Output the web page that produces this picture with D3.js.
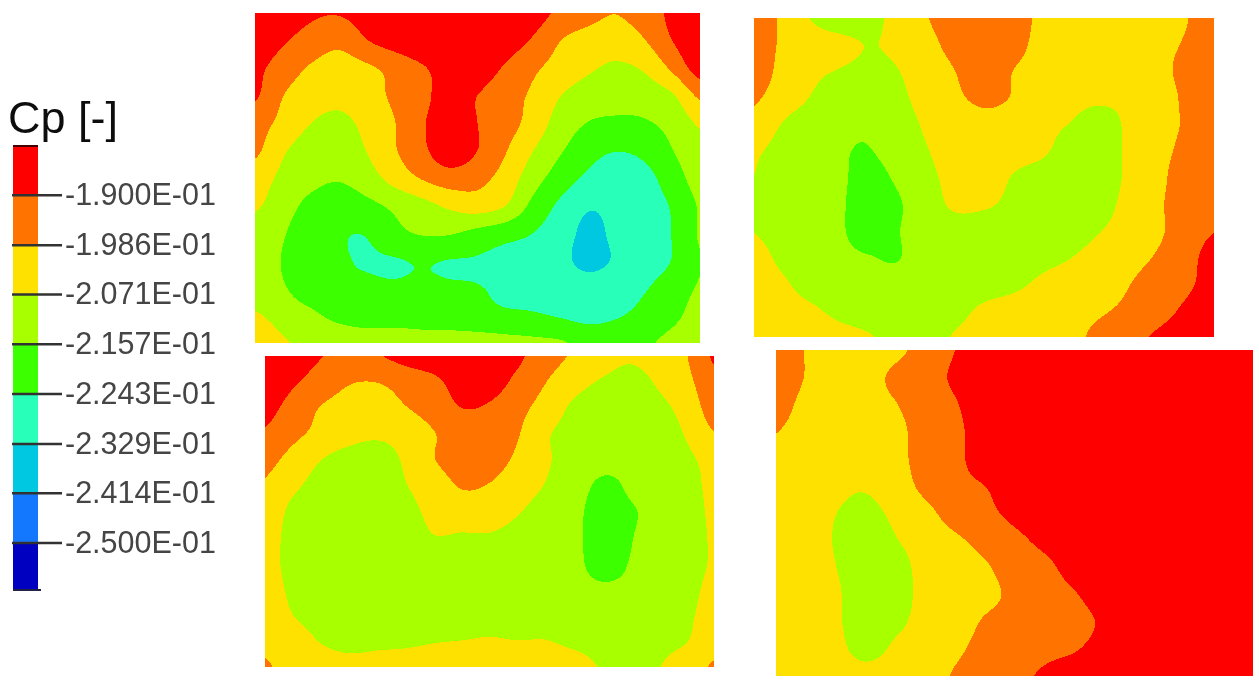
<!DOCTYPE html>
<html>
<head>
<meta charset="utf-8">
<script src="https://cdn.jsdelivr.net/npm/d3@7"></script>
<style>
  html, body { margin: 0; background: #fff; }
  svg { display: block; }
  text { font-family: "Liberation Sans", Arial, sans-serif; }
</style>
</head>
<body>
<svg id="chart" width="1259" height="684">
  <defs><filter id="soft"><feGaussianBlur stdDeviation="0.5"></feGaussianBlur></filter></defs>
</svg>
<script>
// Cp levels (in 1e-3) and the colours of the bands, top of the legend first
var levels = [-190, -198.6, -207.1, -215.7, -224.3, -232.9, -241.4, -250];
var levelLabels = ["-1.900E-01", "-1.986E-01", "-2.071E-01", "-2.157E-01", "-2.243E-01", "-2.329E-01", "-2.414E-01", "-2.500E-01"];
var bandColors = ["#ff0000", "#ff7300", "#ffe100", "#a8ff00", "#3cff00", "#28ffb8", "#00c8e0", "#1478ff", "#0000c0"];
var legendRange = [-181.4, -258.2];

// Cp on a 17 x 13 grid, top row first
var cpTopLeft = [
  [-181,-186,-189,-189.6,-187,-183,-180,-177,-177,-180,-186,-192,-196,-198.4,-194,-188,-181],
  [-184,-189,-193,-196,-190.4,-186,-182,-180,-180,-185,-191,-198.6,-202,-204,-199,-190,-183],
  [-188,-194,-199.5,-203,-200,-196,-191,-186,-185,-191,-197,-202,-206,-208.2,-206,-197,-186],
  [-189,-198.4,-203,-205,-202.5,-197,-192,-187,-190,-195,-200,-207,-211,-213,-212,-208,-197],
  [-195,-201,-207,-209,-205,-199,-191,-186,-190,-195,-202,-211,-216,-217,-216.5,-213,-206],
  [-197,-206,-211,-212.5,-207,-199.5,-192,-185,-190,-198,-207,-215,-221,-224,-222,-216,-209],
  [-203,-209,-213,-215,-211,-204,-198,-194,-196,-202,-212,-220,-226,-230,-227,-220,-212],
  [-206,-212,-218,-221,-218,-214,-210,-205.5,-203,-207,-218,-226,-232,-230.5,-228,-223.5,-215],
  [-211,-215,-221,-223.5,-223.8,-218,-215,-215,-218,-221,-224.3,-229,-235,-231,-229,-224,-215],
  [-213,-216,-221,-223.5,-224.8,-224.8,-223.6,-224.5,-225,-227,-228,-231,-235,-232,-229,-224,-216],
  [-212,-215,-220,-223,-223,-223.5,-223,-223.5,-224,-225.5,-226.5,-228,-229.5,-228,-225,-220,-215],
  [-206,-211,-214,-218,-220,-221,-221,-221,-222,-223,-223.5,-225,-227,-225,-222,-218,-212],
  [-199,-206,-209,-210,-211,-209,-211,-211.5,-212,-213,-214,-215,-218,-218.5,-217,-213,-207]
];

var cpTopRight = [
  [-194,-200,-207.5,-211,-210,-204,-199,-195,-193,-195,-200,-201,-202,-201,-200,-199,-194],
  [-195.5,-199.5,-203,-205,-207.3,-205.5,-201,-196,-192,-195.5,-201,-202,-202.5,-202,-201,-198,-195],
  [-194,-201,-205.5,-207.5,-209,-207.3,-203,-198.6,-194,-198.6,-202,-204,-204,-203,-202,-196,-194],
  [-197.5,-203,-207.5,-211,-212,-209,-204,-200,-197,-199,-203,-205,-206,-205.5,-204,-197,-193.5],
  [-201,-207.5,-211,-214,-214.5,-211,-206,-203,-201,-202,-205,-207.3,-210,-206,-201,-198,-194],
  [-206,-210,-213,-215,-216,-212,-207.5,-204,-203,-204,-206,-210,-211.5,-206,-201,-197,-193.5],
  [-207.2,-211,-214,-214.8,-218,-214.5,-209,-205,-203,-207.5,-210,-211.5,-211,-206,-201,-195,-193.5],
  [-208.5,-212,-214,-215,-219,-216.5,-210.5,-206,-206,-209,-211,-212,-210,-205,-200,-195,-193],
  [-207.3,-211,-214,-215,-219,-216,-212,-210,-211,-211.5,-212,-211,-207.5,-204,-200,-195,-190.3],
  [-204,-209,-212,-214,-215.4,-216,-212,-211.5,-211,-210.5,-209,-207.3,-204,-201.5,-198,-193.5,-186.5],
  [-202,-206,-210,-212,-213.5,-213.5,-213,-212,-210,-208.5,-206,-204,-202,-199,-195,-192,-186],
  [-201,-204,-206,-209,-210.5,-211.5,-211,-209,-206,-204.5,-203,-201,-199.5,-197,-193.5,-188.5,-183],
  [-201,-202,-203,-205,-206.7,-209,-209,-206.7,-205,-203,-201,-200,-197,-192.5,-189,-185,-180.5]
];

var cpBottomLeft = [
  [-182.5,-186,-189.8,-192,-190.5,-187.5,-185,-183,-185,-188.5,-195,-199.5,-202,-205.5,-202,-199,-189],
  [-185,-189,-193.5,-198,-198.4,-195,-192,-186.5,-186.5,-192,-198.4,-204,-208,-211.5,-206,-201,-192.5],
  [-187.5,-193,-199,-202,-203,-199,-195,-190,-191,-196,-202,-208.5,-211.5,-213,-209.5,-204,-195],
  [-191,-196.5,-201,-204.5,-206,-204,-199,-195,-194,-198,-206,-210,-213.5,-214.5,-212,-206.5,-199],
  [-196,-201.5,-207,-210,-210.5,-206,-199,-195,-195.5,-200,-206,-210.5,-213.5,-214.5,-214,-209,-204.5],
  [-199.5,-205.5,-210,-212,-212.5,-207.5,-203,-198,-199,-203,-207.5,-212,-217,-215,-214,-210.5,-205],
  [-202,-209,-212,-214,-214,-210,-205,-203,-203,-206.5,-210.5,-213.5,-219,-216.2,-214.5,-211.5,-205.5],
  [-203.5,-210,-213,-215,-215,-212,-207.5,-208,-208,-210,-212,-213.5,-220,-216,-214.5,-212,-206],
  [-204,-210,-213.5,-215,-215.4,-214,-212,-212,-212,-212.5,-213,-213.5,-219,-215.5,-214.5,-212,-206],
  [-202.5,-209,-212,-214,-214.5,-214,-212.5,-212,-211.5,-212,-212.5,-213,-214.5,-214.5,-214,-210.5,-204.5],
  [-201,-207.1,-210,-212,-212.5,-211.5,-210.5,-210,-209.5,-210,-210.5,-211.5,-213,-213,-212,-209,-203],
  [-200,-203.5,-207.5,-210,-209,-208.5,-207.5,-207,-206.5,-207,-206.9,-208.5,-210,-210.5,-210,-207.5,-201],
  [-198,-201,-203,-204,-204,-203.5,-202.5,-202,-202,-202.5,-203.5,-204.5,-207.5,-209,-207.5,-202,-198]
];

var cpBottomRight = [
  [-193.5,-199,-206,-206,-201,-195,-190,-187.5,-185,-182.5,-180,-178,-176,-175,-175,-175,-175],
  [-192.5,-199,-204,-203,-196.5,-193,-189,-185.5,-183,-181,-179,-178,-176,-175,-175,-175,-175],
  [-195,-201,-204,-203,-199,-194,-190.5,-186.5,-184,-182,-180,-178,-176,-175,-175,-175,-175],
  [-198.4,-202,-204.5,-204,-201,-195,-191.5,-187,-184.5,-182,-180,-178,-176,-175,-175,-175,-175],
  [-200,-203,-205,-205,-201.5,-195,-192,-186,-184,-182,-180,-178,-176,-175,-175,-175,-175],
  [-201,-203,-205.5,-206.5,-203,-196.5,-192.5,-190,-186,-182.5,-180,-178,-176,-175,-175,-175,-175],
  [-201.5,-204,-207,-209,-205.5,-201,-195,-192,-188,-185,-182,-180,-177,-175,-175,-175,-175],
  [-201.5,-204.5,-207.5,-211.5,-207.5,-204,-200,-196,-192,-188,-184.5,-181,-178,-176,-175,-175,-175],
  [-201,-204,-207,-211.5,-209.5,-205,-202.5,-199.5,-195,-192,-187,-183.5,-180,-177,-175,-175,-175],
  [-201,-204,-206,-212,-209.5,-205.5,-203,-200.5,-197,-193.5,-190.5,-186.5,-183,-180,-177,-175,-175],
  [-201,-203,-206,-211,-208.5,-205,-202,-198,-196,-194,-192,-189,-185,-181.5,-178,-175,-175],
  [-200.5,-203,-205,-209.5,-206,-203.5,-200,-196.5,-194.5,-192,-190.5,-187.5,-184,-180.5,-178,-175,-175],
  [-200.5,-202,-203,-204.5,-203.5,-201.5,-198,-195,-192,-189,-186.5,-184,-181,-178,-176,-175,-175]
];

var panels = [
  {grid: cpTopLeft, x0: 255, x1: 700, y0: 13, y1: 343},
  {grid: cpTopRight, x0: 754, x1: 1214, y0: 18, y1: 337},
  {grid: cpBottomLeft, x0: 265, x1: 714, y0: 356, y1: 667},
  {grid: cpBottomRight, x0: 776, x1: 1253, y0: 350, y1: 676}
];

var svg = d3.select("#chart");
var SUB = 12;

// catmull-rom through the read values, so the contours come out round and not faceted
var cubic = function(a, b, c, d, t) {
    return 0.5 * (2 * b + (c - a) * t + (2 * a - 5 * b + 4 * c - d) * t * t + (3 * b - a - 3 * c + d) * t * t * t);
};

var resample = function(grid) {
    var rows = grid.length, cols = grid[0].length;
    var at = function(r, c) {
        return grid[Math.max(0, Math.min(rows - 1, r))][Math.max(0, Math.min(cols - 1, c))];
    };
    var w = (cols - 1) * SUB + 1, h = (rows - 1) * SUB + 1;
    var out = new Array(w * h);
    for (var j = 0; j < h; j++) {
        var r = Math.min(Math.floor(j / SUB), rows - 2), v = j / SUB - r;
        for (var i = 0; i < w; i++) {
            var c = Math.min(Math.floor(i / SUB), cols - 2), u = i / SUB - c;
            var col = [];
            for (var k = -1; k <= 2; k++) {
                col.push(cubic(at(r + k, c - 1), at(r + k, c), at(r + k, c + 1), at(r + k, c + 2), u));
            }
            out[j * w + i] = cubic(col[0], col[1], col[2], col[3], v);
        }
    }
    return {values: out, w: w, h: h};
};

var drawPanel = function(p, idx) {
    var field = resample(p.grid);
    var x = d3.scaleLinear().domain([0.5, field.w - 0.5]).range([p.x0, p.x1]);
    var y = d3.scaleLinear().domain([0.5, field.h - 0.5]).range([p.y0, p.y1]);
    var path = d3.geoPath(d3.geoTransform({
        point: function(px, py) { this.stream.point(x(px), y(py)); }
    }));

    // lowest threshold first, each band painted over the one below it
    var thresholds = levels.slice().reverse();
    var colors = bandColors.slice(0, levels.length).reverse();
    var contours = d3.contours().size([field.w, field.h]).thresholds(thresholds)(field.values);

    svg.append("clipPath").attr("id", "clip" + idx)
        .append("rect")
        .attr("x", p.x0).attr("y", p.y0)
        .attr("width", p.x1 - p.x0).attr("height", p.y1 - p.y0);

    svg.append("g")
        .attr("clip-path", "url(#clip" + idx + ")")
        .selectAll("path")
        .data(contours)
        .enter()
        .append("path")
        .attr("d", path)
        .attr("fill", function(d, i) { return colors[i]; })
        .attr("shape-rendering", "crispEdges");
};

panels.forEach(drawPanel);

// legend
var legendY = d3.scaleLinear().domain(legendRange).range([145, 590]);
var legend = svg.append("g");
var bandEdges = [legendRange[0]].concat(levels, [legendRange[1]]);

legend.selectAll("rect")
    .data(bandColors)
    .enter()
    .append("rect")
    .attr("x", 13)
    .attr("width", 25)
    .attr("y", function(d, i) { return legendY(bandEdges[i]); })
    .attr("height", function(d, i) { return legendY(bandEdges[i + 1]) - legendY(bandEdges[i]); })
    .attr("fill", function(d) { return d; });

legend.append("line").attr("x1", 13).attr("x2", 38).attr("y1", 146).attr("y2", 146).attr("stroke", "#400").attr("stroke-width", 2);
legend.append("line").attr("x1", 13).attr("x2", 41).attr("y1", 590).attr("y2", 590).attr("stroke", "#224").attr("stroke-width", 2);

var axis = d3.axisRight(legendY)
    .tickValues(levels)
    .tickSize(50)
    .tickPadding(3)
    .tickFormat(function(d, i) { return levelLabels[i]; });

// filter on the whole group, a flat line has no box of its own for it
var axisG = svg.append("g").attr("transform", "translate(12,0)").attr("filter", "url(#soft)").call(axis);
axisG.select(".domain").remove();
axisG.selectAll("line").attr("stroke", "#333").attr("stroke-width", 2.5);
axisG.selectAll("text")
    .attr("fill", "#444")
    .style("font-size", "30.5px")
    .style("font-family", '"Liberation Sans", Arial, sans-serif');

svg.append("text")
    .attr("x", 8)
    .attr("y", 133)
    .attr("fill", "#111")
    .attr("filter", "url(#soft)")
    .style("font-size", "45px")
    .text("Cp [-]");
</script>
</body>
</html>
